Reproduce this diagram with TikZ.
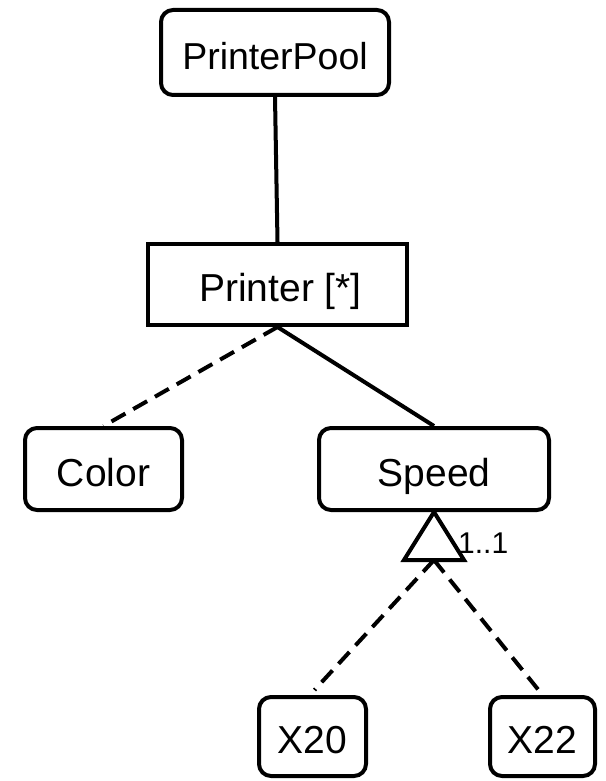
\documentclass[tikz,border=0pt]{standalone}
\usepackage{fontspec}
\setmainfont{Liberation Sans}
\usetikzlibrary{calc}

\tikzset{
  label font/.style={font=\fontsize{39}{42}\selectfont, text height=34pt, text depth=0pt},
  feature/.style={draw, line width=4pt, rounded corners=12pt, inner sep=0pt, label font},
  group/.style={draw, line width=4pt, inner sep=0pt, label font},
  link/.style={line width=4pt},
  optlink/.style={line width=4pt, dash pattern=on 16pt off 9pt},
  card/.style={inner sep=0pt, anchor=west, font=\fontsize{30}{32}\selectfont}
}

\begin{document}
\begin{tikzpicture}[x=1pt, y=-1pt]
  \useasboundingbox (0,0) rectangle (605,781);

  % feature nodes
  \node[feature, minimum width=228pt, minimum height=85pt, font=\fontsize{37.5}{40}\selectfont] (pool) at (275,52.5) {PrinterPool};
  \node[group, minimum width=259pt, minimum height=81pt] (printer) at (277.5,284.5) {\hspace{6pt}Printer [*]};
  \node[feature, minimum width=157pt, minimum height=82pt] (color) at (103.5,469) {Color};
  \node[feature, minimum width=230pt, minimum height=82pt] (speed) at (434,469) {Speed};
  \node[feature, minimum width=107pt, minimum height=79pt] (x20) at (312.5,736.5) {X20};
  \node[feature, minimum width=105pt, minimum height=79pt] (x22) at (542.5,736.5) {X22};

  % hierarchy
  \draw[link] (pool.south) -- (printer.north);
  \draw[optlink] (printer.south) -- (color.north);
  \draw[link] (printer.south) -- (speed.north);

  % alternative group (1..1) under Speed
  \draw[link, line join=miter] (speed.south) -- ++(-30,48) -- ++(60,0) -- cycle;
  \coordinate (alt) at ($(speed.south)+(0,48)$);
  \node[card] (mult) at (458,543) {1..1};
  \draw[optlink] (alt) -- ($(x20.north)+(2,-5)$);
  \draw[optlink] (alt) -- ($(x22.north)+(-4,-5)$);
\end{tikzpicture}
\end{document}
